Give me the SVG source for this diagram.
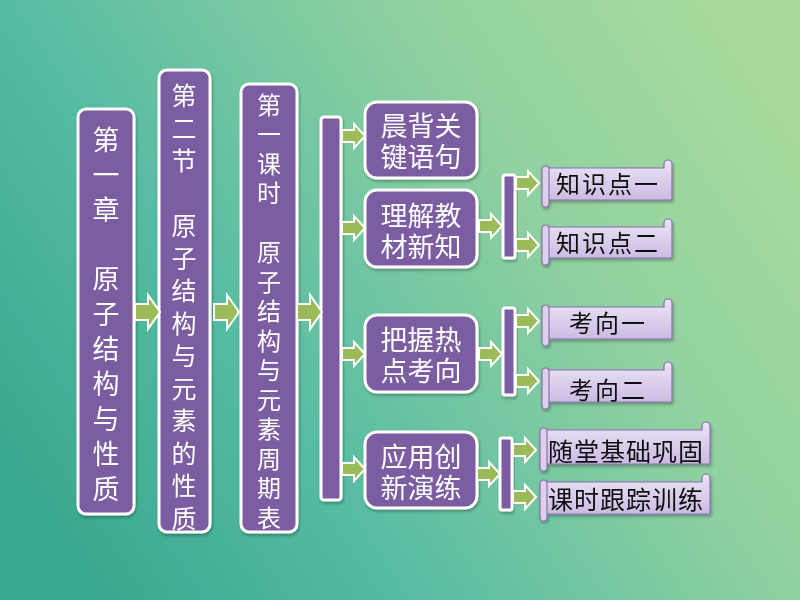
<svg xmlns="http://www.w3.org/2000/svg" xmlns:xlink="http://www.w3.org/1999/xlink" width="800" height="600" viewBox="0 0 800 600">
<defs>
<linearGradient id="bg" x1="0" y1="0.75" x2="1" y2="0.25">
<stop offset="0" stop-color="#3aa88e"/>
<stop offset="0.3" stop-color="#55bba3"/>
<stop offset="0.7" stop-color="#90d1a0"/>
<stop offset="1" stop-color="#a6da9c"/>
</linearGradient>
<linearGradient id="scr" x1="0" y1="0" x2="0" y2="1">
<stop offset="0" stop-color="#ece4f6"/>
<stop offset="1" stop-color="#cbbbe2"/>
</linearGradient>
<path id="bigArrow" d="M0,-8 H13 V-17 L25,0 L13,17 V8 H0 Z"/>
<path id="smArrow" d="M0,-6 H12 V-12 L23,0 L12,12 V6 H0 Z"/>
<filter id="sh" x="-20%" y="-20%" width="140%" height="140%">
<feDropShadow dx="1" dy="2" stdDeviation="1.5" flood-color="#000" flood-opacity="0.3"/>
</filter>
</defs>
<style>
.box{fill:#7b5da2;stroke:#fff;stroke-width:3;}
.bar{fill:#7b5da2;stroke:#fff;stroke-width:3;}
.arr{fill:#9bbb59;stroke:#fff;stroke-width:2;stroke-linejoin:miter;}
.scroll{fill:url(#scr);stroke:#8a70b0;stroke-width:1.2;}
.roll{fill:#dcd0ec;stroke:#8a70b0;stroke-width:1.2;}
.wt{fill:#fff;font-family:"Noto Sans CJK SC","Noto Sans",sans-serif;text-anchor:middle;}
.bt{fill:#111;font-family:"Noto Sans CJK SC","Noto Sans",sans-serif;text-anchor:middle;}
</style>
<rect width="800" height="600" fill="url(#bg)"/>

<g id="node-chapter" filter="url(#sh)">
<rect class="box" x="78" y="109" width="56" height="405" rx="8"/>
<g class="wt" font-size="27">
<text x="106" y="150">第</text><text x="106" y="185">一</text><text x="106" y="220">章</text>
<text x="106" y="289">原</text><text x="106" y="324">子</text><text x="106" y="359">结</text><text x="106" y="394">构</text><text x="106" y="429">与</text><text x="106" y="464">性</text><text x="106" y="499">质</text>
</g>
</g>

<g id="node-section" filter="url(#sh)">
<rect class="box" x="159" y="70" width="51" height="462" rx="8"/>
<g class="wt" font-size="25">
<text x="184" y="105">第</text><text x="184" y="137.5">二</text><text x="184" y="170">节</text>
<text x="184" y="235">原</text><text x="184" y="267.5">子</text><text x="184" y="300">结</text><text x="184" y="332.5">构</text><text x="184" y="365">与</text><text x="184" y="397.5">元</text><text x="184" y="430">素</text><text x="184" y="462.5">的</text><text x="184" y="495">性</text><text x="184" y="527.5">质</text>
</g>
</g>

<g id="node-lesson" filter="url(#sh)">
<rect class="box" x="241" y="84" width="56" height="448" rx="8"/>
<g class="wt" font-size="24">
<text x="269" y="114">第</text><text x="269" y="143">一</text><text x="269" y="172.5">课</text><text x="269" y="202">时</text>
<text x="269" y="261">原</text><text x="269" y="290.5">子</text><text x="269" y="320">结</text><text x="269" y="349.5">构</text><text x="269" y="379">与</text><text x="269" y="408.5">元</text><text x="269" y="438">素</text><text x="269" y="467.5">周</text><text x="269" y="497">期</text><text x="269" y="526.5">表</text>
</g>
</g>

<g id="node-bar-main" filter="url(#sh)">
<rect class="bar" x="321" y="117" width="20" height="383" rx="3"/>
</g>

<g id="node-morning" filter="url(#sh)">
<rect class="box" x="365" y="102" width="112" height="76" rx="12"/>
<g class="wt" font-size="27"><text x="421" y="136">晨背关</text><text x="421" y="167">键语句</text></g>
</g>
<g id="node-understand" filter="url(#sh)">
<rect class="box" x="365" y="190" width="112" height="77" rx="12"/>
<g class="wt" font-size="27"><text x="421" y="226">理解教</text><text x="421" y="257">材新知</text></g>
</g>
<g id="node-grasp" filter="url(#sh)">
<rect class="box" x="365" y="315" width="112" height="77" rx="12"/>
<g class="wt" font-size="27"><text x="421" y="350">把握热</text><text x="421" y="381">点考向</text></g>
</g>
<g id="node-apply" filter="url(#sh)">
<rect class="box" x="365" y="432" width="112" height="76" rx="12"/>
<g class="wt" font-size="27"><text x="421" y="467">应用创</text><text x="421" y="498">新演练</text></g>
</g>

<g id="node-bar-understand" filter="url(#sh)"><rect class="bar" x="503" y="175" width="12" height="83" rx="2"/></g>
<g id="node-bar-grasp" filter="url(#sh)"><rect class="bar" x="503" y="308" width="12" height="87" rx="2"/></g>
<g id="node-bar-apply" filter="url(#sh)"><rect class="bar" x="500" y="438" width="12" height="72" rx="2"/></g>

<g id="node-k1" filter="url(#sh)">
<path class="scroll" d="M548,168 H664 V164 A4,4 0 0 1 672,164 V200 H548 Z"/>
<rect class="roll" x="542" y="166" width="7" height="41" rx="3.5"/>
<text class="bt" x="608" y="193" font-size="24" letter-spacing="2">知识点一</text>
</g>
<g id="node-k2" filter="url(#sh)">
<path class="scroll" d="M548,227 H664 V223 A4,4 0 0 1 672,223 V258 H548 Z"/>
<rect class="roll" x="542" y="225" width="7" height="40" rx="3.5"/>
<text class="bt" x="608" y="252" font-size="24" letter-spacing="2">知识点二</text>
</g>
<g id="node-d1" filter="url(#sh)">
<path class="scroll" d="M548,307 H664 V303 A4,4 0 0 1 672,303 V339 H548 Z"/>
<rect class="roll" x="542" y="305" width="7" height="41" rx="3.5"/>
<text class="bt" x="608" y="332" font-size="24" letter-spacing="2">考向一</text>
</g>
<g id="node-d2" filter="url(#sh)">
<path class="scroll" d="M548,370 H664 V366 A4,4 0 0 1 672,366 V402 H548 Z"/>
<rect class="roll" x="542" y="368" width="7" height="41" rx="3.5"/>
<text class="bt" x="608" y="399" font-size="24" letter-spacing="2">考向二</text>
</g>
<g id="node-p1" filter="url(#sh)">
<path class="scroll" d="M546,430 H702 V426 A4,4 0 0 1 710,426 V464 H546 Z"/>
<rect class="roll" x="540" y="428" width="7" height="43" rx="3.5"/>
<text class="bt" x="626" y="461" font-size="25" letter-spacing="1">随堂基础巩固</text>
</g>
<g id="node-p2" filter="url(#sh)">
<path class="scroll" d="M546,482 H702 V478 A4,4 0 0 1 710,478 V514 H546 Z"/>
<rect class="roll" x="540" y="480" width="7" height="41" rx="3.5"/>
<text class="bt" x="626" y="509" font-size="25" letter-spacing="1">课时跟踪训练</text>
</g>

<g id="connectors">
<use href="#bigArrow" class="arr" x="135" y="312"/>
<use href="#bigArrow" class="arr" x="214" y="312"/>
<use href="#bigArrow" class="arr" x="297" y="312"/>
<use href="#smArrow" class="arr" x="342" y="136"/>
<use href="#smArrow" class="arr" x="342" y="228"/>
<use href="#smArrow" class="arr" x="342" y="354"/>
<use href="#smArrow" class="arr" x="342" y="469"/>
<use href="#smArrow" class="arr" x="479" y="226"/>
<use href="#smArrow" class="arr" x="479" y="354"/>
<use href="#smArrow" class="arr" x="477" y="474"/>
<use href="#smArrow" class="arr" x="516" y="183"/>
<use href="#smArrow" class="arr" x="516" y="245"/>
<use href="#smArrow" class="arr" x="516" y="321"/>
<use href="#smArrow" class="arr" x="516" y="381"/>
<use href="#smArrow" class="arr" x="513" y="450"/>
<use href="#smArrow" class="arr" x="513" y="497"/>
</g>
</svg>
